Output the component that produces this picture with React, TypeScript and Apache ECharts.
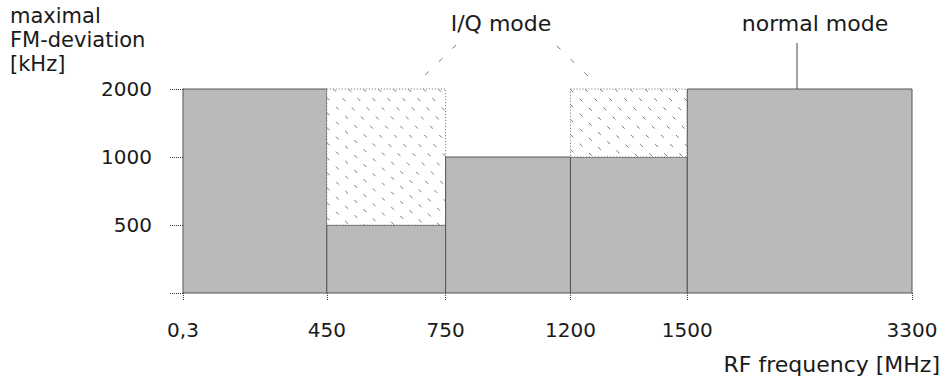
import React, { useEffect, useRef } from "react";
import * as echarts from "echarts";

// Frequency band edges (MHz labels) and their schematic positions on the (non-linear) axis
const freqLabels = ["0,3", "450", "750", "1200", "1500", "3300"];
const freqAxisPos = [0, 144, 263, 388, 505, 730];

// Deviation levels (kHz) shown at equal spacing on the y axis
const deviationValues = [0, 500, 1000, 2000];
const deviationLabels = ["", "500", "1000", "2000"];

// Per band: maximal FM deviation in normal mode and in I/Q mode (kHz)
const normalModeMax = [2000, 500, 1000, 1000, 2000];
const iqModeMax = [2000, 2000, 1000, 2000, 2000];

const FONT = "DejaVu Sans";
const GREY = "#bababa";

export default function App() {
  const ref = useRef<HTMLDivElement>(null);
  useEffect(() => {
    if (!ref.current) return;
    const chart = echarts.init(ref.current, null, { renderer: "svg" });
    const level = (v: number) => deviationValues.indexOf(v);
    const bands = normalModeMax.map((n, i) => [
      freqAxisPos[i],
      freqAxisPos[i + 1],
      level(n),
      level(iqModeMax[i]),
    ]);

    const renderItem = (params: any, api: any) => {
      const x0 = api.value(0);
      const x1 = api.value(1);
      const nLev = api.value(2);
      const qLev = api.value(3);
      const pBL = api.coord([x0, 0]);
      const pTR = api.coord([x1, nLev]);
      const children: any[] = [
        {
          type: "rect",
          shape: { x: pBL[0], y: pTR[1], width: pTR[0] - pBL[0], height: pBL[1] - pTR[1] },
          style: { fill: GREY, stroke: "#555", lineWidth: 1 },
        },
      ];
      if (qLev > nLev) {
        const q = api.coord([x1, qLev]);
        const rx0 = pBL[0], rx1 = pTR[0], ry0 = q[1], ry1 = pTR[1];
        children.push({
          type: "rect",
          shape: { x: rx0, y: ry0, width: rx1 - rx0, height: ry1 - ry0 },
          style: { fill: "#fff", stroke: "#666", lineWidth: 1, lineDash: [1, 2] },
        });
        const s = 15;
        for (let k = rx0 - ry1 + s / 2; k < rx1 - ry0; k += s) {
          const xa = Math.max(rx0, ry0 + k);
          const xb = Math.min(rx1, ry1 + k);
          if (xb - xa < 3) continue;
          children.push({
            type: "line",
            shape: { x1: xa, y1: xa - k, x2: xb, y2: xb - k },
            style: { stroke: "#777", lineWidth: 1, lineDash: [4, 9] },
          });
        }
      }
      return { type: "group", children };
    };

    chart.setOption({
      animation: false,
      textStyle: { fontFamily: FONT },
      grid: { left: 183, right: 33, top: 89, bottom: 88 },
      xAxis: {
        type: "value",
        min: 0,
        max: freqAxisPos[freqAxisPos.length - 1],
        offset: 5,
        axisLine: { show: false },
        splitLine: { show: false },
        axisTick: {
          show: true,
          customValues: freqAxisPos,
          length: 8,
          lineStyle: { color: "#333", type: "dotted" },
        },
        axisLabel: {
          customValues: freqAxisPos,
          formatter: (v: number) => freqLabels[freqAxisPos.indexOf(v)] ?? "",
          fontSize: 20,
          fontFamily: FONT,
          color: "#1a1a1a",
          margin: 22,
        },
      },
      yAxis: {
        type: "value",
        min: 0,
        max: 3,
        interval: 1,
        axisLine: { show: true, lineStyle: { color: "#222", width: 1 } },
        splitLine: { show: false },
        axisTick: { show: true, length: 14, lineStyle: { color: "#333", type: "dotted" } },
        axisLabel: {
          formatter: (v: number) => deviationLabels[v] ?? "",
          fontSize: 20,
          fontFamily: FONT,
          color: "#1a1a1a",
          margin: 31,
        },
      },
      series: [
        {
          type: "custom",
          renderItem,
          encode: { x: [0, 1], y: [2, 3] },
          data: bands,
          clip: false,
        },
      ],
      graphic: [
        {
          type: "text",
          left: 10,
          top: 4,
          style: {
            text: "maximal\nFM-deviation\n[kHz]",
            font: `21px '${FONT}'`,
            lineHeight: 24,
            fill: "#1a1a1a",
          },
        },
        {
          type: "text",
          x: 501,
          y: 23,
          style: {
            text: "I/Q mode",
            font: `22px '${FONT}'`,
            fill: "#1a1a1a",
            align: "center",
            verticalAlign: "middle",
          },
        },
        {
          type: "text",
          x: 815,
          y: 23,
          style: {
            text: "normal mode",
            font: `22px '${FONT}'`,
            fill: "#1a1a1a",
            align: "center",
            verticalAlign: "middle",
          },
        },
        {
          type: "text",
          x: 940,
          y: 364,
          style: {
            text: "RF frequency [MHz]",
            font: `22px '${FONT}'`,
            fill: "#1a1a1a",
            align: "right",
            verticalAlign: "middle",
          },
        },
        {
          type: "line",
          shape: { x1: 797, y1: 43, x2: 797, y2: 100 },
          style: { stroke: "#444", lineWidth: 1 },
        },
        {
          type: "line",
          shape: { x1: 456, y1: 45, x2: 420, y2: 80 },
          style: { stroke: "#777", lineWidth: 1, lineDash: [5, 14] },
        },
        {
          type: "line",
          shape: { x1: 557, y1: 46, x2: 588, y2: 76 },
          style: { stroke: "#777", lineWidth: 1, lineDash: [5, 14] },
        },
      ],
    });
    return () => chart.dispose();
  }, []);
  return (
    <div
      ref={ref}
      style={{ position: "fixed", left: 0, top: 0, width: 945, height: 381, background: "#fff" }}
    />
  );
}
